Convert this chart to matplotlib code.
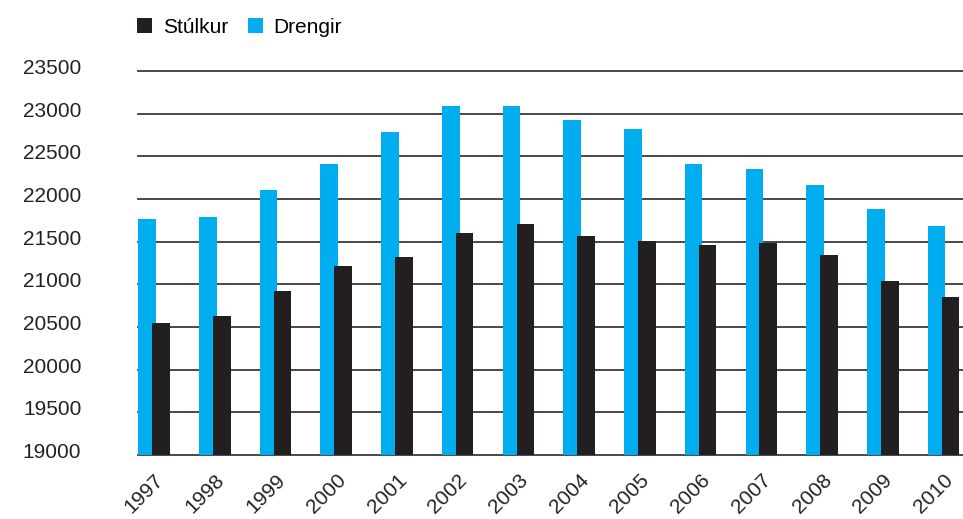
import numpy as np
import matplotlib
matplotlib.use("Agg")
import matplotlib.pyplot as plt
from matplotlib.patches import Patch
from matplotlib.transforms import ScaledTranslation

# gögn lesin af myndinni
years = ["1997", "1998", "1999", "2000", "2001", "2002", "2003",
         "2004", "2005", "2006", "2007", "2008", "2009", "2010"]
drengir = [21760, 21790, 22100, 22410, 22780, 23090, 23090,
           22930, 22820, 22410, 22355, 22160, 21885, 21685]
stulkur = [20545, 20625, 20920, 21220, 21315, 21600, 21710,
           21570, 21510, 21460, 21480, 21345, 21035, 20850]
yticks = [19000, 19500, 20000, 20500, 21000, 21500, 22000, 22500, 23000, 23500]

BLUE = "#00AEEF"
BLACK = "#231F20"

plt.rcParams["font.family"] = ["Liberation Sans", "DejaVu Sans"]

fig = plt.figure(figsize=(9.63, 5.19), dpi=100)
ax = fig.add_axes([138.3 / 963, 1 - 455 / 519, 1 - 138.3 / 963, (455 - 71) / 519])

x = np.arange(len(years))
w = 0.29
off = 0.23
base = yticks[0]

ax.bar(x, np.array(drengir) - base, width=w, bottom=base, align="edge",
       color=BLUE, zorder=2)
ax.bar(x + off, np.array(stulkur) - base, width=w, bottom=base, align="edge",
       color=BLACK, zorder=3)

for t in yticks:
    ax.axhline(t, color="#3a3a3a", lw=1.3, zorder=1, clip_on=False)

ax.set_xlim(0, 824.7 / 60.72)
ax.set_ylim(yticks[0], yticks[-1])

ax.set_yticks(yticks)
ax.set_yticklabels([str(t) for t in yticks], fontsize=15, color="#222222")
ax.tick_params(axis="y", length=0, pad=41)
for lab in ax.get_yticklabels():
    lab.set_transform(lab.get_transform() + ScaledTranslation(0, 0.045, fig.dpi_scale_trans))

ax.set_xticks(x + off + w / 2)
ax.set_xticklabels(years, fontsize=15, color="#222222", rotation=45,
                   ha="right", rotation_mode="anchor")
ax.tick_params(axis="x", length=0, pad=11)
for lab in ax.get_xticklabels():
    lab.set_transform(lab.get_transform() + ScaledTranslation(-0.07, 0, fig.dpi_scale_trans))

for s in ax.spines.values():
    s.set_visible(False)

handles = [Patch(facecolor=BLACK, label="Stúlkur"),
           Patch(facecolor=BLUE, label="Drengir")]
fig.legend(handles=handles, loc="upper left", bbox_to_anchor=(122 / 963, 1 - 3 / 519),
           ncol=2, frameon=False, fontsize=15, handlelength=0.75, handleheight=0.75,
           handletextpad=0.5, columnspacing=0.95, borderpad=0.2)

fig.savefig("out.png", dpi=100)
